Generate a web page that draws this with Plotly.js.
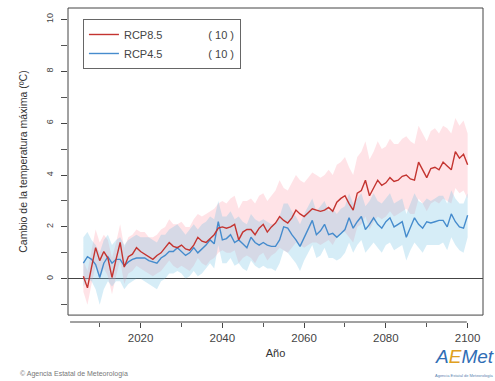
<!DOCTYPE html>
<html>
<head>
<meta charset="utf-8">
<script src="https://cdn.plot.ly/plotly-3.0.1.min.js"></script>
<style>html,body{margin:0;padding:0;background:#fff}#chart{width:495px;height:381px}</style>
</head>
<body>
<div id="chart"></div>
<script>
const years = [];
for (let y = 2006; y <= 2100; y++) years.push(y);

const rcp85Mean = [0.1,-0.35,0.45,1.2,0.7,1.05,0.8,0.05,0.75,1.4,0.45,0.85,0.95,1.2,1.05,0.95,0.85,0.75,0.9,1.0,1.2,1.4,1.25,1.2,1.3,1.15,1.1,1.3,1.6,1.45,1.4,1.55,1.7,1.95,2.0,1.95,2.0,2.1,1.5,1.8,1.9,1.9,1.7,1.95,2.1,1.8,2.0,2.15,2.4,2.25,2.15,2.35,2.65,2.5,2.4,2.55,2.7,2.65,2.6,2.65,2.75,2.6,2.95,3.1,3.2,2.9,2.65,3.3,3.4,3.8,3.2,3.5,3.8,3.6,3.7,3.9,3.75,3.8,3.95,4.0,3.85,3.8,4.5,4.2,3.9,4.25,4.3,4.2,4.5,4.35,4.2,4.9,4.65,4.8,4.4];
const rcp85Upper = [0.7,0.3,1.1,1.9,1.4,1.7,1.5,0.8,1.4,2.1,1.2,1.6,1.7,1.9,1.8,1.8,1.6,1.6,1.7,1.9,2.0,2.3,2.1,2.1,2.2,2.0,2.0,2.3,2.5,2.4,2.5,2.6,2.7,2.9,3.0,2.9,3.1,3.2,2.7,3.0,3.0,3.1,2.9,3.2,3.3,3.0,3.2,3.4,3.8,3.5,3.4,3.7,4.0,3.8,3.7,3.9,4.1,4.0,3.9,4.0,4.2,4.0,4.4,4.5,4.7,4.3,4.0,4.7,4.9,5.3,4.6,4.9,5.3,5.0,5.1,5.4,5.2,5.2,5.4,5.5,5.3,5.2,5.9,5.6,5.3,5.7,5.8,5.6,5.9,5.8,5.6,6.2,5.9,6.1,5.6];
const rcp85Lower = [-0.5,-1.0,-0.2,0.5,0.0,0.4,0.1,-0.6,0.1,0.7,-0.2,0.2,0.3,0.5,0.4,0.3,0.2,0.1,0.2,0.3,0.5,0.7,0.5,0.4,0.5,0.4,0.3,0.5,0.8,0.6,0.5,0.7,0.8,1.0,1.1,1.0,1.0,1.1,0.6,0.8,0.9,0.8,0.6,0.9,1.0,0.7,0.9,1.0,1.2,1.1,1.0,1.2,1.4,1.3,1.2,1.3,1.4,1.4,1.3,1.4,1.5,1.3,1.6,1.8,1.8,1.6,1.4,2.0,2.1,2.4,1.9,2.2,2.4,2.3,2.4,2.6,2.4,2.5,2.6,2.7,2.5,2.5,3.1,2.9,2.6,2.9,3.0,2.9,3.1,3.0,2.9,3.5,3.3,3.4,3.1];

const rcp45Mean = [0.6,0.85,0.75,0.55,0.05,0.6,0.85,0.6,0.75,0.75,0.5,0.65,0.75,0.8,0.8,0.8,0.7,0.65,0.6,0.8,0.9,1.05,1.05,1.2,1.05,0.9,1.0,1.2,1.0,1.15,1.3,1.5,1.35,2.2,1.5,1.55,1.7,1.4,1.5,1.35,1.2,1.6,1.4,1.3,1.4,1.3,1.25,1.25,1.5,2.0,1.95,1.7,1.5,1.25,1.6,1.9,2.25,1.7,1.85,2.1,1.7,1.75,1.6,1.75,1.9,2.35,1.95,2.2,2.4,1.9,2.1,2.35,2.1,1.95,2.2,2.35,2.0,2.1,2.2,1.6,2.0,2.35,2.1,1.95,2.2,2.15,2.2,2.25,2.25,2.0,2.5,2.2,2.0,1.95,2.45];
const rcp45Upper = [1.6,1.8,1.5,1.3,1.0,1.5,1.7,1.3,1.5,1.6,1.3,1.5,1.6,1.7,1.6,1.6,1.6,1.5,1.4,1.7,1.7,1.9,2.0,2.1,1.9,1.7,1.9,2.1,1.9,2.1,2.2,2.4,2.3,3.0,2.4,2.4,2.6,2.3,2.4,2.2,2.1,2.5,2.3,2.2,2.3,2.2,2.1,2.1,2.4,2.9,2.9,2.6,2.4,2.1,2.5,2.8,3.1,2.6,2.8,3.0,2.6,2.7,2.5,2.7,2.8,3.3,2.9,3.1,3.3,2.8,3.0,3.3,3.0,2.9,3.1,3.3,2.9,3.0,3.1,2.5,2.9,3.3,3.0,2.9,3.1,3.0,3.1,3.2,3.2,2.9,3.4,3.1,2.9,2.9,3.3];
const rcp45Lower = [-0.3,0.0,-0.1,-0.4,-1.0,-0.4,-0.1,-0.3,-0.1,-0.1,-0.4,-0.2,-0.1,0.0,0.0,-0.1,-0.2,-0.3,-0.4,-0.1,0.0,0.2,0.2,0.3,0.2,0.0,0.1,0.3,0.1,0.2,0.4,0.6,0.4,1.3,0.6,0.6,0.8,0.5,0.6,0.4,0.3,0.7,0.5,0.4,0.5,0.4,0.4,0.3,0.6,1.1,1.0,0.8,0.6,0.3,0.7,1.0,1.3,0.8,0.9,1.2,0.8,0.8,0.7,0.8,1.0,1.4,1.0,1.3,1.5,1.0,1.2,1.4,1.2,1.0,1.3,1.4,1.1,1.2,1.3,0.7,1.1,1.4,1.2,1.0,1.3,1.3,1.3,1.3,1.4,1.1,1.6,1.3,1.1,1.0,1.6];

const seriesNames = ["RCP8.5", "RCP4.5"];
const modelCounts = ["( 10 )", "( 10 )"];
const xTickVals = [2020, 2040, 2060, 2080, 2100];
const yTickVals = [0, 2, 4, 6, 8, 10];

const red = "rgb(196,52,48)";
const blue = "rgb(70,140,205)";
const redBand = "rgba(255,150,165,0.27)";
const blueBand = "rgba(120,195,230,0.30)";
const pad = "\u00a0".repeat(15);

const traces = [
  {x: years, y: rcp85Lower, mode: "lines", line: {width: 0, color: redBand}, showlegend: false, hoverinfo: "skip"},
  {x: years, y: rcp85Upper, mode: "lines", line: {width: 0, color: redBand}, fill: "tonexty", fillcolor: redBand, showlegend: false, hoverinfo: "skip"},
  {x: years, y: rcp45Lower, mode: "lines", line: {width: 0, color: blueBand}, showlegend: false, hoverinfo: "skip"},
  {x: years, y: rcp45Upper, mode: "lines", line: {width: 0, color: blueBand}, fill: "tonexty", fillcolor: blueBand, showlegend: false, hoverinfo: "skip"},
  {x: years, y: rcp45Mean, mode: "lines", name: seriesNames[1] + pad + modelCounts[1], line: {color: blue, width: 1.4}, legendrank: 2},
  {x: years, y: rcp85Mean, mode: "lines", name: seriesNames[0] + pad + modelCounts[0], line: {color: red, width: 1.4}, legendrank: 1}
];

const font = "Liberation Sans, Arial, sans-serif";

const layout = {
  width: 495, height: 381,
  margin: {l: 68, r: 12, t: 8, b: 59},
  paper_bgcolor: "#fff", plot_bgcolor: "#fff",
  font: {family: font, color: "#333"},
  showlegend: true,
  legend: {
    x: 0.036, y: 0.965, xanchor: "left", yanchor: "top",
    bgcolor: "#fff", bordercolor: "#666", borderwidth: 1,
    font: {size: 11, color: "#444", family: font},
    traceorder: "normal", itemwidth: 30, tracegroupgap: 0
  },
  xaxis: {
    range: [2002.24, 2103.76],
    anchor: "free", position: 0,
    showgrid: false, zeroline: false, showline: false,
    tickmode: "array", tickvals: xTickVals, ticktext: xTickVals.map(String),
    ticks: "outside", ticklen: 5, tickcolor: "#444", tickwidth: 1,
    tickfont: {size: 11.5, color: "#444"},
    minor: {tickmode: "linear", tick0: 2000, dtick: 10, ticks: "outside", ticklen: 4, tickcolor: "#555", showgrid: false},
    title: {text: "Año", font: {size: 11, color: "#333"}, standoff: 6}
  },
  yaxis: {
    range: [-1.4, 10.44],
    domain: [0.022, 1],
    showgrid: false, showline: false,
    zeroline: true, zerolinecolor: "#444", zerolinewidth: 1,
    tickmode: "array", tickvals: yTickVals, ticktext: yTickVals.map(String),
    ticks: "outside", ticklen: 6, tickcolor: "#444",
    tickangle: -90, tickfont: {size: 9, color: "#444"},
    ticklabelstandoff: 4,
    minor: {tickmode: "linear", tick0: 1, dtick: 2, ticks: "outside", ticklen: 6, tickcolor: "#555", showgrid: false},
    title: {text: "Cambio de la temperatura máxima (ºC)", font: {size: 10.5, color: "#333"}, standoff: 15}
  },
  shapes: [
    {type: "rect", xref: "x domain", yref: "y domain", x0: 0, x1: 1, y0: 0, y1: 1, line: {color: "#444", width: 1}},
    {type: "line", xref: "x domain", yref: "paper", x0: 0.005, x1: 0.961, y0: 0, y1: 0, line: {color: "#444", width: 1}}
  ],
  annotations: [
    {xref: "paper", yref: "paper", x: -0.12, y: -0.165, xanchor: "left", yanchor: "middle", showarrow: false,
     text: "© Agencia Estatal de Meteorología", font: {size: 7, color: "#777"}},
    {xref: "paper", yref: "paper", x: 0.955, y: -0.11, xanchor: "center", yanchor: "middle", showarrow: false,
     text: "<i><span style='color:#2f6db5'>A</span><span style='color:#e0a020'>E</span><span style='color:#2f6db5'>Met</span></i>",
     font: {size: 19, family: "Liberation Sans, Arial, sans-serif"}},
    {xref: "paper", yref: "paper", x: 0.955, y: -0.17, xanchor: "center", yanchor: "middle", showarrow: false,
     text: "Agencia Estatal de Meteorología", font: {size: 4, color: "#5a7fb0"}}
  ]
};

Plotly.newPlot("chart", traces, layout, {displayModeBar: false, staticPlot: true});
</script>
</body>
</html>
